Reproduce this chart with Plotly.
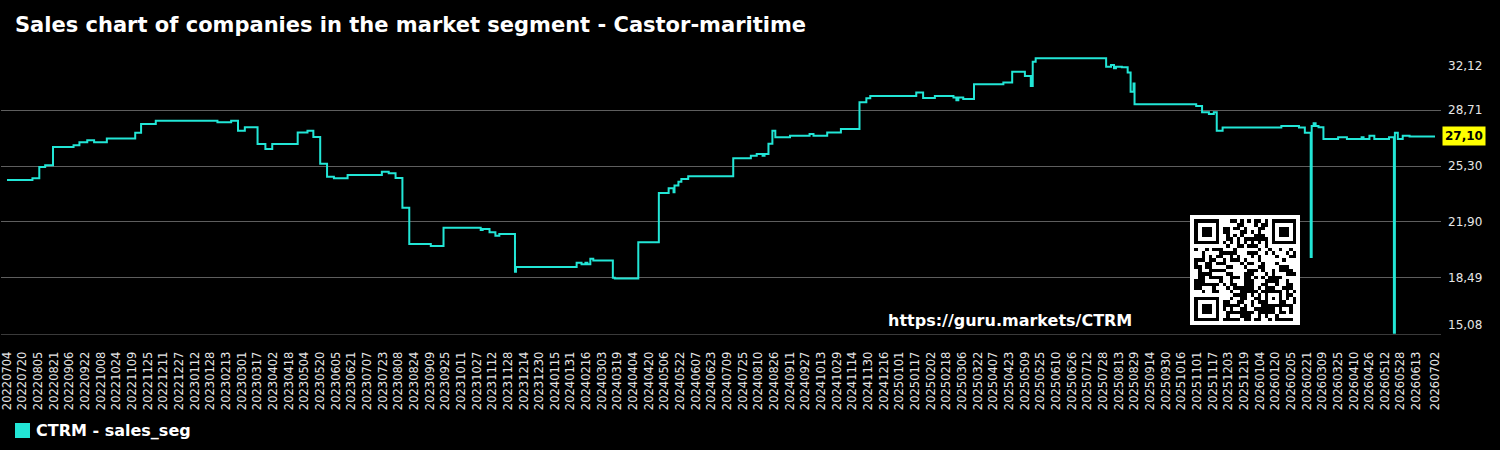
import base64
import hashlib
import struct
import zlib

import pandas as pd
import plotly.graph_objects as go

# ---------------- data ----------------
dates = [
    "2022-07-04", "2022-07-30", "2022-08-06", "2022-08-12", "2022-08-20", "2022-09-10",
    "2022-09-16", "2022-09-24", "2022-10-01", "2022-10-14", "2022-11-12", "2022-11-18",
    "2022-12-03", "2023-02-04", "2023-02-18", "2023-02-25", "2023-03-04", "2023-03-17",
    "2023-03-25", "2023-04-01", "2023-04-27", "2023-05-07", "2023-05-13", "2023-05-20",
    "2023-05-27", "2023-06-03", "2023-06-17", "2023-07-22", "2023-07-29", "2023-08-05",
    "2023-08-12", "2023-08-19", "2023-09-10", "2023-09-23", "2023-10-31", "2023-11-02",
    "2023-11-09", "2023-11-15", "2023-11-19", "2023-12-05", "2023-12-06", "2024-02-06",
    "2024-02-11", "2024-02-15", "2024-02-17", "2024-02-20", "2024-02-23", "2024-03-14",
    "2024-03-16", "2024-04-09", "2024-04-30", "2024-05-10", "2024-05-15", "2024-05-16",
    "2024-05-20", "2024-05-23", "2024-05-30", "2024-07-15", "2024-08-02", "2024-08-08",
    "2024-08-14", "2024-08-16", "2024-08-20", "2024-08-24", "2024-08-27", "2024-09-11",
    "2024-10-01", "2024-10-05", "2024-10-19", "2024-11-02", "2024-11-21", "2024-11-28",
    "2024-12-02", "2025-01-18", "2025-01-25", "2025-02-06", "2025-02-25", "2025-02-28",
    "2025-03-02", "2025-03-07", "2025-03-18", "2025-04-17", "2025-04-26", "2025-05-09",
    "2025-05-15", "2025-05-17", "2025-05-20", "2025-07-31", "2025-08-05", "2025-08-08",
    "2025-08-10", "2025-08-16", "2025-08-22", "2025-08-25", "2025-08-28", "2025-08-29",
    "2025-10-31", "2025-11-06", "2025-11-13", "2025-11-18", "2025-11-21", "2025-11-27",
    "2026-01-26", "2026-02-13", "2026-02-19", "2026-02-25", "2026-02-26", "2026-02-28",
    "2026-03-02", "2026-03-05", "2026-03-10", "2026-03-25", "2026-04-03", "2026-04-18",
    "2026-04-20", "2026-04-26", "2026-05-01", "2026-05-16", "2026-05-21", "2026-05-22",
    "2026-05-25", "2026-05-30", "2026-06-06", "2026-07-02",
]
values = [
    24.45, 24.56, 25.24, 25.35, 26.46, 26.56,
    26.75, 26.87, 26.75, 26.97, 27.33, 27.86,
    28.06, 27.96, 28.06, 27.45, 27.66, 26.64,
    26.34, 26.64, 27.35, 27.45, 27.07, 25.44,
    24.65, 24.56, 24.76, 24.96, 24.86, 24.57,
    22.77, 20.56, 20.44, 21.55, 21.41, 21.47,
    21.27, 21.06, 21.17, 18.87, 19.16, 19.42,
    19.32, 19.42, 19.32, 19.66, 19.56, 18.51,
    18.45, 20.66, 23.66, 23.95, 23.70, 24.11,
    24.35, 24.51, 24.68, 25.77, 25.93, 26.03,
    25.93, 26.03, 26.66, 27.45, 27.05, 27.15,
    27.25, 27.15, 27.35, 27.56, 29.18, 29.42,
    29.56, 29.77, 29.44, 29.56, 29.48, 29.30,
    29.48, 29.38, 30.28, 30.38, 31.04, 30.78,
    30.17, 31.65, 31.86, 31.35, 31.45, 31.25,
    31.35, 31.31, 31.00, 29.83, 30.33, 29.06,
    28.96, 28.57, 28.47, 28.57, 27.45, 27.64,
    27.74, 27.64, 27.33, 19.77, 27.74, 27.90,
    27.74, 27.66, 26.95, 27.05, 26.95, 27.05,
    26.95, 27.15, 26.95, 27.05, 15.15, 27.33,
    26.95, 27.15, 27.10, 27.10,
]
series_name = "CTRM - sales_seg"
last_value = 27.10
last_label = "27,10"

tick_dates = list(pd.date_range("2022-07-04", "2026-06-13", freq="16D")) + [pd.Timestamp("2026-07-02")]
tick_text = [d.strftime("%Y%m%d") for d in tick_dates]

y_ticks = [15.08, 18.49, 21.90, 25.30, 28.71, 32.12]
y_labels = ["15,08", "18,49", "21,90", "25,30", "28,71", "32,12"]

title_text = "Sales chart of companies in the market segment - Castor-maritime"
url_text = "https://guru.markets/CTRM"

# ---------------- styling ----------------
FONT = "DejaVu Sans"
LINE_COLOR = "#22e6d6"
W, H = 1500, 450
ML, MR, MT, MB = 1, 59, 54, 116
PW, PH = W - ML - MR, H - MT - MB


def px_x(px):
    return (px - ML) / PW


def px_y(py):
    return (H - MB - py) / PH


# ---------------- QR-like decoration ----------------
def qr_modules(text, n=29):
    m = [[None] * n for _ in range(n)]

    def finder(r0, c0):
        for r in range(-1, 8):
            for c in range(-1, 8):
                rr, cc = r0 + r, c0 + c
                if 0 <= rr < n and 0 <= cc < n:
                    on = (0 <= r <= 6 and 0 <= c <= 6) and (
                        r in (0, 6) or c in (0, 6) or (2 <= r <= 4 and 2 <= c <= 4))
                    m[rr][cc] = 1 if on else 0

    finder(0, 0)
    finder(0, n - 7)
    finder(n - 7, 0)
    for i in range(8, n - 8):
        m[6][i] = 1 if i % 2 == 0 else 0
        m[i][6] = 1 if i % 2 == 0 else 0
    a = n - 7
    for r in range(-2, 3):
        for c in range(-2, 3):
            m[a + r][a + c] = 1 if (max(abs(r), abs(c)) != 1) else 0
    bits = ""
    k = 0
    while len(bits) < n * n:
        bits += "".join(f"{b:08b}" for b in hashlib.sha256(f"{text}{k}".encode()).digest())
        k += 1
    idx = 0
    for r in range(n):
        for c in range(n):
            if m[r][c] is None:
                m[r][c] = int(bits[idx])
                idx += 1
    return m


def png_gray(rows, w, h):
    raw = b"".join(b"\x00" + bytes(row) for row in rows)

    def chunk(t, d):
        return struct.pack(">I", len(d)) + t + d + struct.pack(">I", zlib.crc32(t + d) & 0xFFFFFFFF)

    return (b"\x89PNG\r\n\x1a\n"
            + chunk(b"IHDR", struct.pack(">IIBBBBB", w, h, 8, 0, 0, 0, 0))
            + chunk(b"IDAT", zlib.compress(raw))
            + chunk(b"IEND", b""))


QR_SIZE = 110
QR_BORDER = 4
mods = qr_modules(url_text)
nm = len(mods)
msz = (QR_SIZE - 2 * QR_BORDER) / nm
rows = []
for py in range(QR_SIZE):
    row = []
    for pxx in range(QR_SIZE):
        r = int((py - QR_BORDER) // msz)
        c = int((pxx - QR_BORDER) // msz)
        if 0 <= r < nm and 0 <= c < nm and mods[r][c]:
            row.append(0)
        else:
            row.append(255)
    rows.append(row)
qr_src = "data:image/png;base64," + base64.b64encode(png_gray(rows, QR_SIZE, QR_SIZE)).decode()

# ---------------- figure ----------------
fig = go.Figure()
fig.add_trace(go.Scatter(
    x=pd.to_datetime(dates), y=values, mode="lines", name=series_name,
    line=dict(color=LINE_COLOR, width=2, shape="hv"), showlegend=False,
))

x_start = pd.Timestamp("2022-07-04") - pd.Timedelta(hours=147)
x_end = pd.Timestamp("2026-07-02") + pd.Timedelta(hours=147)

annotations = []
for v, lab in zip(y_ticks, y_labels):
    if v == y_ticks[-1]:
        ya, ys = "top", -3
    elif v == y_ticks[0]:
        ya, ys = "bottom", 0
    else:
        ya, ys = "middle", 0
    annotations.append(dict(
        x=1, xref="paper", y=v, yref="y", text=lab, showarrow=False,
        xanchor="left", yanchor=ya, xshift=5, yshift=ys,
        font=dict(family=FONT, size=12, color="#e6e6e6"),
    ))
annotations.append(dict(
    x=1, xref="paper", y=last_value, yref="y", text=f"<b>{last_label}</b>", showarrow=False,
    xanchor="left", yanchor="middle", xshift=1, bgcolor="#ffff00", borderpad=2,
    font=dict(family=FONT, size=12, color="#000000"),
))
annotations.append(dict(
    x=px_x(1010), xref="paper", y=px_y(320), yref="paper", text=f"<b>{url_text}</b>",
    showarrow=False, xanchor="center", yanchor="middle",
    font=dict(family=FONT, size=16, color="#ffffff"),
))
annotations.append(dict(
    x=px_x(34), xref="paper", y=px_y(430), yref="paper", text=f"<b>{series_name}</b>",
    showarrow=False, xanchor="left", yanchor="middle",
    font=dict(family=FONT, size=16, color="#ffffff"),
))

shapes = [dict(
    type="rect", xref="paper", yref="paper",
    x0=px_x(15), x1=px_x(30), y0=px_y(438), y1=px_y(423),
    fillcolor=LINE_COLOR, line=dict(width=0),
)]

fig.update_layout(
    width=W, height=H,
    margin=dict(l=ML, r=MR, t=MT, b=MB),
    paper_bgcolor="#000000", plot_bgcolor="#000000",
    title=dict(
        text=f"<b>{title_text}</b>", x=15 / W, xref="container", xanchor="left",
        y=1 - 25 / H, yref="container", yanchor="middle",
        font=dict(family=FONT, size=21, color="#ffffff"),
    ),
    xaxis=dict(
        type="date", range=[x_start, x_end], tickvals=tick_dates, ticktext=tick_text,
        tickangle=-90, tickfont=dict(family=FONT, size=11.5, color="#e6e6e6"),
        ticks="outside", ticklen=12, tickcolor="rgba(0,0,0,0)",
        ticklabeloverflow="allow",
        showgrid=False, zeroline=False, showline=True, linecolor="#3a3a3a", linewidth=1,
    ),
    yaxis=dict(
        range=[y_ticks[0], y_ticks[-1]], side="right", tickvals=y_ticks[1:],
        showticklabels=False, showgrid=True, gridcolor="#5e5e5e", gridwidth=1,
        zeroline=False, showline=False, ticks="",
    ),
    annotations=annotations,
    shapes=shapes,
    images=[dict(
        source=qr_src, xref="paper", yref="paper",
        x=px_x(1190), y=px_y(215), sizex=QR_SIZE / PW, sizey=QR_SIZE / PH,
        xanchor="left", yanchor="top", sizing="stretch", layer="above",
    )],
    showlegend=False,
)

fig.write_html("out.html")
